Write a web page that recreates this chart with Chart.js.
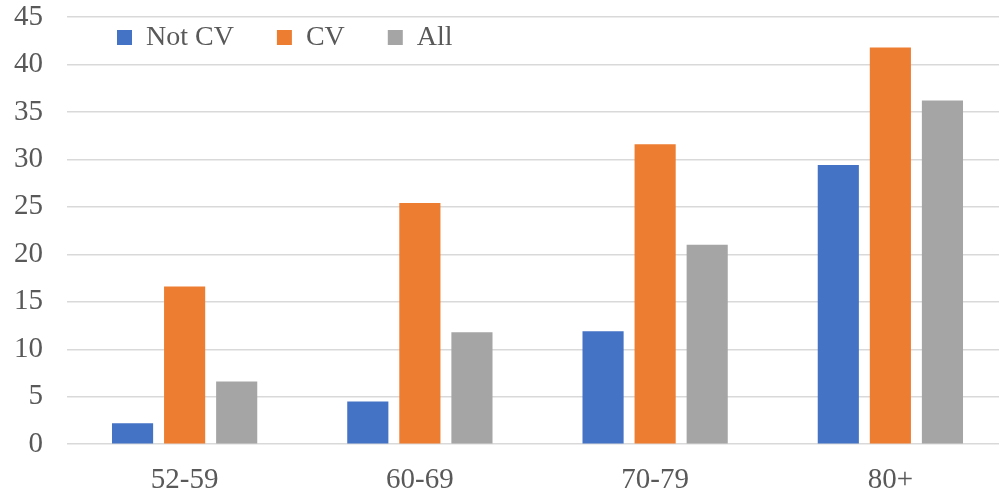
<!DOCTYPE html>
<html>
<head>
<meta charset="utf-8">
<script src="https://cdn.jsdelivr.net/npm/chart.js@4.4.0/dist/chart.umd.min.js"></script>
<style>
  html, body { margin: 0; padding: 0; background: #fff; overflow: hidden; }
  /* plot runs a little past the right edge of the window, like the original crop */
  #wrap { width: 1008px; height: 494px; }
</style>
</head>
<body>
<div id="wrap"><canvas id="myChart"></canvas></div>
<script>
// data
const ageGroups = ['52-59', '60-69', '70-79', '80+'];
const notCV = [2.2, 4.5, 11.9, 29.4];
const cv = [16.6, 25.4, 31.6, 41.8];
const all = [6.6, 11.8, 21.0, 36.2];
const yTicks = [0, 5, 10, 15, 20, 25, 30, 35, 40, 45];

const textColor = '#595959';
const serif = "'Liberation Serif', 'Times New Roman', serif";

// legend sits inside the plot, so it should take no layout space
const legendInside = {
  id: 'legendInside',
  beforeLayout(chart) {
    const lg = chart.legend;
    if (lg && !lg._patched) {
      const fit = lg.fit;
      lg.fit = function () { fit.call(this); this.height = 0; };
      lg._patched = true;
    }
  },
  afterLayout(chart) {
    const lg = chart.legend;
    lg.left = chart.chartArea.left + 7;
    lg.top = chart.chartArea.top - 36.5;
    lg.right = chart.chartArea.right;
    lg.bottom = lg.top + 100;
  }
};

const ctx = document.getElementById('myChart');
new Chart(ctx, {
  type: 'bar',
  data: {
    labels: ageGroups,
    datasets: [
      { label: 'Not CV', data: notCV, backgroundColor: '#4472C4' },
      { label: 'CV', data: cv, backgroundColor: '#ED7D31' },
      { label: 'All', data: all, backgroundColor: '#A5A5A5' }
    ]
  },
  options: {
    responsive: true,
    maintainAspectRatio: false,
    animation: false,
    categoryPercentage: 0.664,
    barPercentage: 0.79,
    layout: {
      padding: { left: -10, right: 0, top: 17, bottom: -15 }
    },
    scales: {
      x: {
        grid: { display: false },
        border: { display: false },
        ticks: {
          color: textColor,
          font: { family: serif, size: 29 },
          padding: 11
        }
      },
      y: {
        min: 0,
        max: 45,
        afterBuildTicks: (axis) => { axis.ticks = yTicks.map(v => ({ value: v })); },
        afterFit: (axis) => { axis.paddingTop = 0; axis.paddingBottom = 0; },
        grid: {
          color: '#d9d9d9',
          lineWidth: 1.5,
          drawTicks: false
        },
        border: { display: false },
        ticks: {
          color: textColor,
          font: { family: serif, size: 29 },
          padding: 24
        }
      }
    },
    plugins: {
      legend: {
        position: 'top',
        align: 'start',
        labels: {
          boxWidth: 15,
          boxHeight: 15,
          padding: 43,
          color: textColor,
          font: { family: serif, size: 28 }
        }
      },
      tooltip: { enabled: false }
    }
  },
  plugins: [legendInside]
});
</script>
</body>
</html>
